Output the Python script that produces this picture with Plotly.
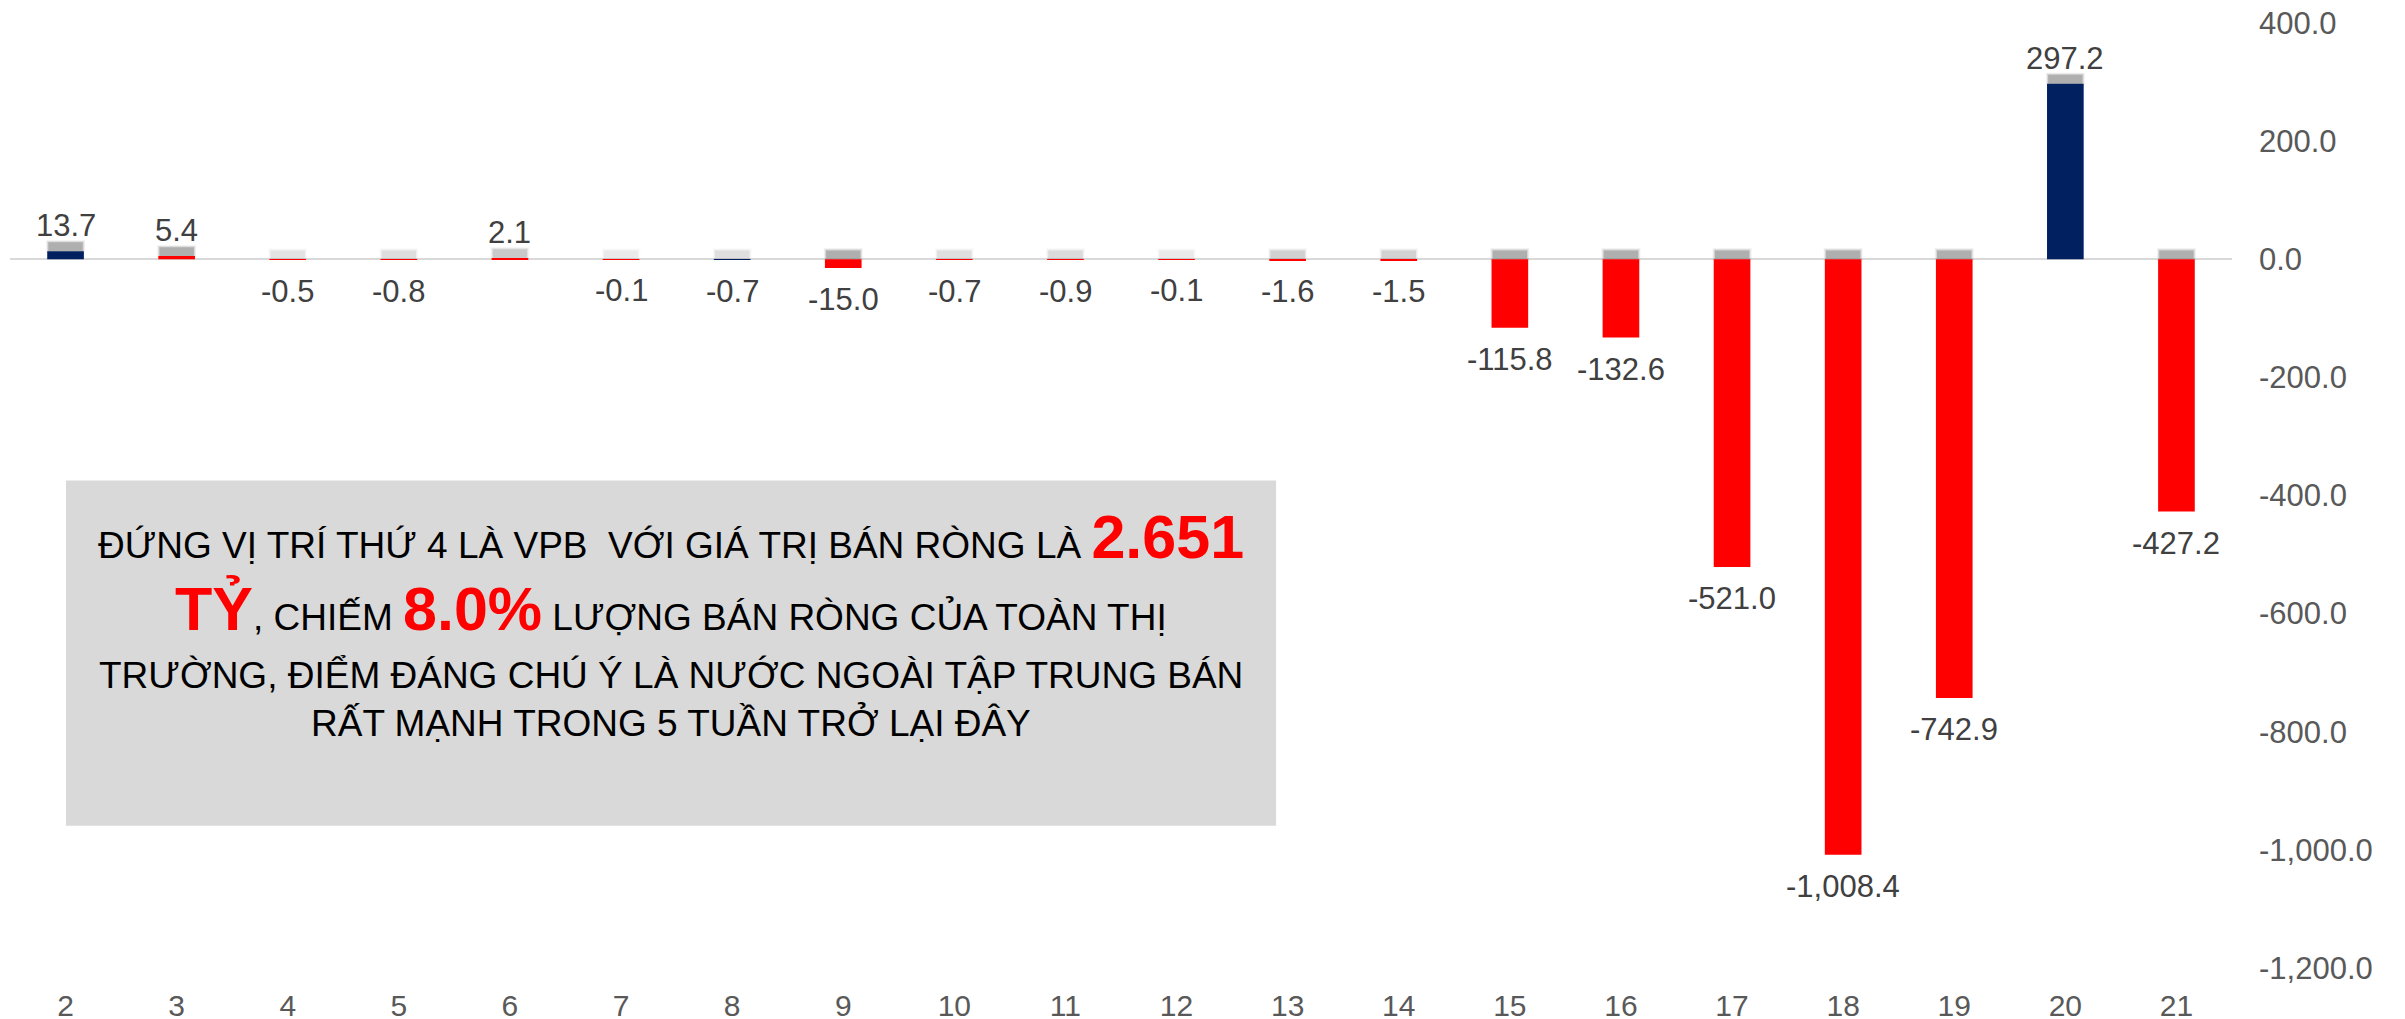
import plotly.graph_objects as go

weeks = ["2", "3", "4", "5", "6", "7", "8", "9", "10", "11", "12", "13", "14", "15", "16", "17", "18", "19", "20", "21"]
values = [13.7, 5.4, -0.5, -0.8, 2.1, -0.1, -0.7, -15.0, -0.7, -0.9, -0.1, -1.6, -1.5,
          -115.8, -132.6, -521.0, -1008.4, -742.9, 297.2, -427.2]
bar_colors = ["#002060", "#FF0000", "#FF0000", "#FF0000", "#FF0000", "#FF0000", "#002060", "#FF0000",
              "#FF0000", "#FF0000", "#FF0000", "#FF0000", "#FF0000", "#FF0000", "#FF0000", "#FF0000",
              "#FF0000", "#FF0000", "#002060", "#FF0000"]
y_tickvals = [400, 200, 0, -200, -400, -600, -800, -1000, -1200]
y_ticktext = ["400.0", "200.0", "0.0", "-200.0", "-400.0", "-600.0", "-800.0", "-1,000.0", "-1,200.0"]

FONT = "Liberation Sans, Arial, sans-serif"
SHADOW_H = 15  # shadow thickness in axis units

bases = [max(v, 0) for v in values]
strength = [0.12 + 0.5 * min(1.0, abs(v) / 4.0) for v in values]

fig = go.Figure()
# soft shadow, built from a few translucent layers to imitate a blur
for grow, alpha in [(5, 0.18), (2.5, 0.35), (0, 0.7)]:
    fig.add_trace(go.Bar(
        x=weeks, y=[SHADOW_H + grow] * len(values), base=[b - grow * 0.3 for b in bases],
        width=0.31 + grow * 0.008,
        marker=dict(color=[f"rgba(125,125,125,{s*alpha:.3f})" for s in strength], line=dict(width=0)),
        hoverinfo="skip", showlegend=False))
# main bars
fig.add_trace(go.Bar(
    x=weeks, y=values, width=0.33,
    marker=dict(color=bar_colors, line=dict(width=0)),
    showlegend=False))

# data labels (x given as category index)
for i, v in enumerate(values):
    if v >= 0:
        fig.add_annotation(x=i, y=v, text=f"{v:,.1f}", showarrow=False, yanchor="bottom", yshift=6,
                           font=dict(family=FONT, size=31, color="#404040"))
    else:
        fig.add_annotation(x=i, y=v, text=f"{v:,.1f}", showarrow=False, yanchor="top", yshift=-12,
                           font=dict(family=FONT, size=31, color="#404040"))

# text box
fig.add_shape(type="rect", xref="paper", yref="paper", x0=0.0252, x1=0.5698, y0=0.1506, y1=0.516,
              fillcolor="#D9D9D9", line=dict(width=0), layer="below")

RED = "#FF0000"
lines = [
    ("ĐỨNG VỊ TRÍ THỨ 4 LÀ VPB \u00a0VỚI GIÁ TRỊ BÁN RÒNG LÀ "
     f"<span style='color:{RED};font-size:61px'><b>2.651</b></span>", 0.456),
    (f"<span style='color:{RED};font-size:61px'><b>TỶ</b></span>, CHIẾM "
     f"<span style='color:{RED};font-size:61px'><b>8.0%</b></span> LƯỢNG BÁN RÒNG CỦA TOÀN THỊ", 0.380),
    ("TRƯỜNG, ĐIỂM ĐÁNG CHÚ Ý LÀ NƯỚC NGOÀI TẬP TRUNG BÁN", 0.310),
    ("RẤT MẠNH TRONG 5 TUẦN TRỞ LẠI ĐÂY", 0.259),
]
for txt, yy in lines:
    fig.add_annotation(xref="paper", yref="paper", x=0.2975, y=yy, text=txt, showarrow=False,
                       xanchor="center", yanchor="middle",
                       font=dict(family=FONT, size=37, color="#000000"))

fig.update_layout(
    width=2405, height=1019,
    margin=dict(l=2, r=181, t=15, b=59),
    paper_bgcolor="white", plot_bgcolor="white",
    barmode="overlay",
    font=dict(family=FONT),
    xaxis=dict(type="category", showgrid=False, showline=False, zeroline=False, ticks="",
               automargin=False,
               tickfont=dict(family=FONT, size=30, color="#595959"), ticklabelstandoff=17),
    yaxis=dict(side="right", range=[-1200, 400], tickvals=y_tickvals, ticktext=y_ticktext,
               automargin=False, ticklabeloverflow="allow",
               showgrid=False, showline=False, zeroline=True, zerolinecolor="#D9D9D9", zerolinewidth=2,
               tickfont=dict(family=FONT, size=31, color="#595959"), ticklabelstandoff=26),
)

fig.write_html("out.html")
